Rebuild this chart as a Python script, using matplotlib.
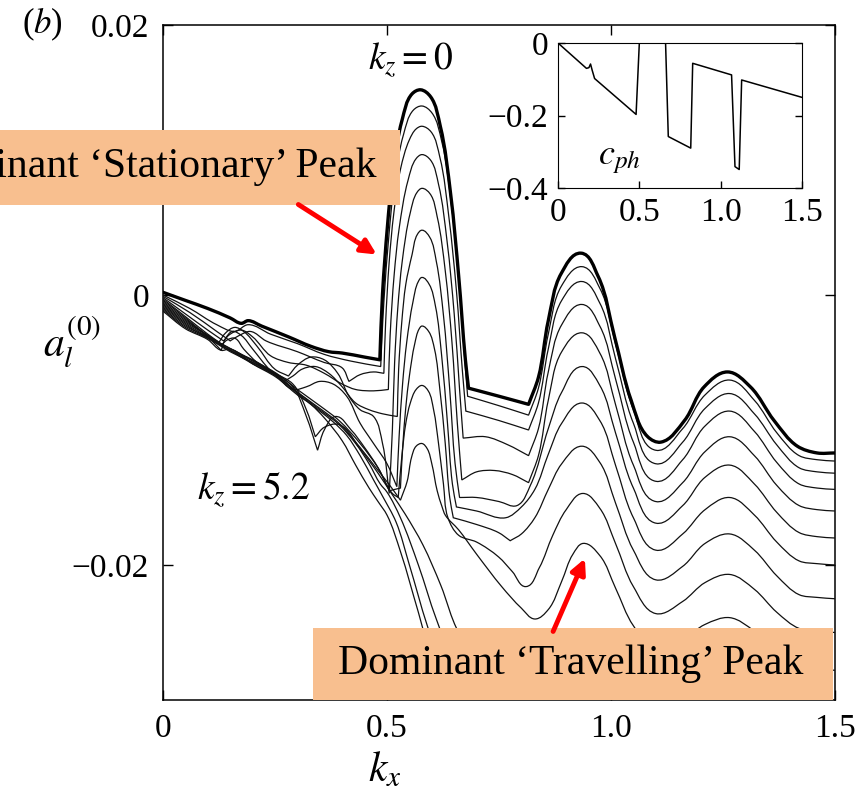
import matplotlib
matplotlib.use("Agg")
import numpy as np
import matplotlib.pyplot as plt
from matplotlib.patches import Rectangle, FancyArrowPatch, PathPatch
from matplotlib.path import Path

plt.rcParams['font.family'] = ['Liberation Serif', 'DejaVu Serif']
plt.rcParams['mathtext.fontset'] = 'stix'

# ---------------- data: a_l^(0)(k_x) for k_z = 0 ... 5.2 ----------------
kz_values = [0.0, 0.4, 0.8, 1.2, 1.6, 2.0, 2.4, 2.8, 3.2, 3.6, 4.0, 4.4, 4.8, 5.2]

kx_00 = [0, 0.05, 0.10, 0.15, 0.175, 0.19, 0.22, 0.28, 0.33, 0.37, 0.40, 0.45, 0.484,
         0.490, 0.501, 0.512, 0.534, 0.556, 0.575, 0.597, 0.619, 0.642, 0.660, 0.675, 0.682,
         0.75, 0.816, 0.838, 0.860, 0.889, 0.933, 0.971, 1.008, 1.045, 1.082, 1.111, 1.164,
         1.208, 1.26, 1.311, 1.364, 1.416, 1.46, 1.5]
a_00 = [0.0002, -0.0004, -0.0010, -0.0017, -0.0021, -0.0019, -0.0023, -0.0031, -0.0038, -0.0042,
        -0.0043, -0.0046, -0.0048, 0.0001, 0.0051, 0.0088, 0.0130, 0.0149, 0.0152, 0.0147, 0.0125,
        0.0075, 0.0014, -0.0048, -0.0069, -0.0075, -0.0081, -0.0061, -0.0019, 0.0016, 0.0031,
        0.0014, -0.0031, -0.0078, -0.0105, -0.0109, -0.0093, -0.0068, -0.0057, -0.0068, -0.0093,
        -0.0112, -0.0117, -0.0117]

kx_04 = [0, 0.06, 0.12, 0.16, 0.19, 0.24, 0.30, 0.36, 0.42, 0.486,
         0.489, 0.494, 0.504, 0.515, 0.537, 0.559, 0.578, 0.600, 0.622, 0.644, 0.662, 0.674, 0.680,
         0.75, 0.816, 0.838, 0.86, 0.89, 0.935, 0.975, 1.01, 1.05, 1.10, 1.16, 1.21, 1.265, 1.32,
         1.37, 1.42, 1.46, 1.5]
a_04 = [0.0000, -0.0010, -0.0022, -0.0027, -0.0022, -0.0029, -0.0036, -0.0044, -0.0049, -0.0053,
        -0.0030, 0.0000, 0.0043, 0.0079, 0.0119, 0.0137, 0.0140, 0.0135, 0.0114, 0.0066, 0.0007,
        -0.0050, -0.0075, -0.0082, -0.0089, -0.0069, -0.0029, 0.0007, 0.0021, 0.0005, -0.0036,
        -0.0085, -0.0115, -0.0099, -0.0074, -0.0063, -0.0078, -0.0102, -0.0119, -0.0122, -0.0123]

kx_08 = [0, 0.06, 0.12, 0.15, 0.17, 0.195, 0.23, 0.30, 0.36, 0.40, 0.415, 0.44, 0.47, 0.493,
         0.497, 0.505, 0.515, 0.530, 0.550, 0.565, 0.578, 0.598, 0.618, 0.638, 0.655, 0.668, 0.676,
         0.75, 0.816, 0.838, 0.86, 0.89, 0.935, 0.975, 1.01, 1.05, 1.10, 1.16, 1.21, 1.265, 1.32,
         1.37, 1.42, 1.46, 1.5]
a_08 = [-0.0001, -0.0013, -0.0027, -0.0034, -0.0030, -0.0027, -0.0034, -0.0042, -0.0050, -0.0054,
        -0.0064, -0.0059, -0.0057, -0.0058,
        -0.0020, 0.0025, 0.0060, 0.0093, 0.0115, 0.0123, 0.0125, 0.0121, 0.0102, 0.0058, 0.0003,
        -0.0055, -0.0086, -0.0093, -0.0100, -0.0080, -0.0040, -0.0004, 0.0010, -0.0006, -0.0047,
        -0.0095, -0.0125, -0.0109, -0.0084, -0.0073, -0.0088, -0.0111, -0.0128, -0.0131, -0.0132]

kx_12 = [0, 0.05, 0.10, 0.135, 0.15, 0.175, 0.20, 0.24, 0.28, 0.32, 0.36, 0.40, 0.43, 0.47, 0.503,
         0.507, 0.516, 0.527, 0.547, 0.565, 0.578, 0.597, 0.615, 0.634, 0.650, 0.662, 0.670,
         0.72, 0.77, 0.816, 0.838, 0.86, 0.89, 0.935, 0.975, 1.01, 1.05, 1.10, 1.16, 1.21, 1.265,
         1.32, 1.37, 1.42, 1.46, 1.5]
a_12 = [-0.0002, -0.0014, -0.0026, -0.0034, -0.0029, -0.0026, -0.0031, -0.0045, -0.0050, -0.0052,
        -0.0058, -0.0066, -0.0070, -0.0071, -0.0070,
        -0.0030, 0.0015, 0.0049, 0.0085, 0.0101, 0.0104, 0.0100, 0.0082, 0.0040, -0.0014, -0.0070,
        -0.0106, -0.0105, -0.0111, -0.0119, -0.0099, -0.0057, -0.0022, -0.0007, -0.0023, -0.0062,
        -0.0109, -0.0138, -0.0122, -0.0097, -0.0086, -0.0101, -0.0124, -0.0140, -0.0143, -0.0144]

kx_16 = [0, 0.05, 0.10, 0.125, 0.14, 0.16, 0.18, 0.21, 0.25, 0.28, 0.30, 0.33, 0.36, 0.39, 0.415,
         0.44, 0.47, 0.49, 0.505,
         0.512, 0.517, 0.524, 0.534, 0.552, 0.567, 0.578, 0.596, 0.612, 0.630, 0.645, 0.657, 0.667,
         0.70, 0.74, 0.78, 0.816, 0.838, 0.86, 0.89, 0.935, 0.975, 1.01, 1.05, 1.10, 1.16, 1.21,
         1.265, 1.32, 1.37, 1.42, 1.46, 1.5]
a_16 = [-0.0003, -0.0016, -0.0029, -0.0035, -0.0028, -0.0024, -0.0027, -0.0038, -0.0055, -0.0060,
        -0.0052, -0.0046, -0.0048, -0.0058, -0.0075, -0.0085, -0.0090, -0.0110, -0.0147,
        -0.0100, -0.0050, -0.0010, 0.0025, 0.0061, 0.0076, 0.0079, 0.0075, 0.0058, 0.0018, -0.0035,
        -0.0095, -0.0137, -0.0131, -0.0130, -0.0133, -0.0139, -0.0119, -0.0078, -0.0042, -0.0028,
        -0.0043, -0.0081, -0.0126, -0.0153, -0.0139, -0.0116, -0.0105, -0.0119, -0.0141, -0.0156,
        -0.0159, -0.0160]

kx_20 = [0, 0.05, 0.10, 0.13, 0.14, 0.155, 0.175, 0.20, 0.24, 0.27, 0.29, 0.31, 0.34, 0.37, 0.40,
         0.43, 0.46, 0.49, 0.523,
         0.526, 0.533, 0.542, 0.556, 0.568, 0.578, 0.595, 0.610, 0.626, 0.640, 0.652, 0.662,
         0.70, 0.75, 0.79, 0.82, 0.86, 0.89, 0.935, 0.975, 1.01, 1.05, 1.10, 1.16, 1.21, 1.265,
         1.32, 1.37, 1.42, 1.46, 1.5]
a_20 = [-0.0004, -0.0017, -0.0031, -0.0041, -0.0032, -0.0027, -0.0030, -0.0040, -0.0056, -0.0064,
        -0.0060, -0.0055, -0.0053, -0.0058, -0.0068, -0.0080, -0.0085, -0.0088, -0.0090,
        -0.0055, -0.0020, 0.0008, 0.0030, 0.0045, 0.0048, 0.0043, 0.0025, -0.0015, -0.0070,
        -0.0125, -0.0150, -0.0150, -0.0153, -0.0156, -0.0141, -0.0099, -0.0072, -0.0053, -0.0067,
        -0.0102, -0.0143, -0.0169, -0.0156, -0.0135, -0.0126, -0.0140, -0.0161, -0.0176, -0.0179,
        -0.0180]

kx_24 = [0, 0.05, 0.10, 0.13, 0.145, 0.16, 0.18, 0.21, 0.253, 0.29, 0.32, 0.35, 0.38, 0.41, 0.44,
         0.47, 0.50, 0.522,
         0.527, 0.535, 0.544, 0.558, 0.570, 0.578, 0.594, 0.608, 0.622, 0.635, 0.646, 0.655,
         0.70, 0.765, 0.80, 0.83, 0.86, 0.89, 0.935, 0.975, 1.01, 1.05, 1.10, 1.16, 1.21, 1.265,
         1.32, 1.37, 1.42, 1.46, 1.5]
a_24 = [-0.0005, -0.0018, -0.0030, -0.0037, -0.0033, -0.0032, -0.0040, -0.0050, -0.0060, -0.0070,
        -0.0068, -0.0064, -0.0066, -0.0075, -0.0095, -0.0110, -0.0125, -0.0142,
        -0.0105, -0.0065, -0.0035, -0.0005, 0.0010, 0.0013, 0.0008, -0.0008, -0.0045, -0.0095,
        -0.0140, -0.0157, -0.0160, -0.0165, -0.0157, -0.0144, -0.0118, -0.0095, -0.0080, -0.0093,
        -0.0126, -0.0165, -0.0189, -0.0177, -0.0159, -0.0150, -0.0163, -0.0183, -0.0197, -0.0199,
        -0.0200]

kx_28 = [0, 0.05, 0.10, 0.15, 0.20, 0.25, 0.29, 0.32, 0.345, 0.36, 0.385, 0.42, 0.45, 0.48, 0.505,
         0.53,
         0.535, 0.542, 0.550, 0.562, 0.572, 0.578, 0.593, 0.606, 0.618, 0.630, 0.640, 0.648,
         0.70, 0.749, 0.775, 0.80, 0.83, 0.86, 0.89, 0.935, 0.975, 1.01, 1.05, 1.10, 1.16, 1.21,
         1.265, 1.32, 1.37, 1.42, 1.46, 1.5]
a_28 = [-0.0006, -0.0019, -0.0030, -0.0041, -0.0048, -0.0058, -0.0068, -0.0090, -0.0115, -0.0100,
        -0.0090, -0.0100, -0.0113, -0.0128, -0.0145, -0.0143,
        -0.0113, -0.0083, -0.0060, -0.0036, -0.0025, -0.0023, -0.0027, -0.0040, -0.0070, -0.0110,
        -0.0150, -0.0165, -0.0170, -0.0176, -0.0182, -0.0177, -0.0165, -0.0144, -0.0125, -0.0112,
        -0.0124, -0.0154, -0.0189, -0.0211, -0.0201, -0.0184, -0.0177, -0.0189, -0.0208, -0.0222,
        -0.0224, -0.0225]

kx_32 = [0, 0.05, 0.10, 0.13, 0.17, 0.21, 0.253, 0.30, 0.35, 0.393, 0.44, 0.48, 0.512, 0.525,
         0.533, 0.542, 0.552, 0.565, 0.578, 0.592, 0.604, 0.615, 0.626, 0.636, 0.66,
         0.70, 0.749, 0.78, 0.81, 0.84, 0.87, 0.90, 0.937, 0.975, 1.01, 1.05, 1.10, 1.16, 1.21,
         1.265, 1.32, 1.37, 1.42, 1.5]
a_32 = [-0.0007, -0.0020, -0.0030, -0.0036, -0.0043, -0.0050, -0.0058, -0.0070, -0.0082, -0.0093,
        -0.0110, -0.0128, -0.0147, -0.0150,
        -0.0120, -0.0095, -0.0080, -0.0070, -0.0067, -0.0071, -0.0085, -0.0110, -0.0140, -0.0165,
        -0.0178, -0.0183, -0.0194, -0.0205, -0.0216, -0.0202, -0.0178, -0.0159, -0.0147, -0.0158,
        -0.0184, -0.0216, -0.0236, -0.0227, -0.0213, -0.0207, -0.0218, -0.0235, -0.0247, -0.0250]

kx_36 = [0, 0.05, 0.10, 0.13, 0.16, 0.20, 0.253, 0.30, 0.35, 0.393, 0.44, 0.48, 0.504, 0.530,
         0.545, 0.555, 0.565, 0.578, 0.590, 0.600, 0.612, 0.623, 0.63,
         0.66, 0.70, 0.756, 0.80, 0.83, 0.86, 0.89, 0.915, 0.938, 0.975, 1.01, 1.05, 1.10, 1.16,
         1.21, 1.265, 1.32, 1.37, 1.42, 1.5]
a_36 = [-0.0008, -0.0021, -0.0031, -0.0037, -0.0043, -0.0051, -0.0060, -0.0072, -0.0084, -0.0095,
        -0.0113, -0.0130, -0.0140, -0.0152,
        -0.0138, -0.0120, -0.0112, -0.0110, -0.0114, -0.0125, -0.0145, -0.0157, -0.0163,
        -0.0174, -0.0192, -0.0216, -0.0232, -0.0240, -0.0233, -0.0212, -0.0192, -0.0184, -0.0193,
        -0.0217, -0.0245, -0.0262, -0.0255, -0.0244, -0.0239, -0.0249, -0.0264, -0.0275, -0.0278]

kx_40 = [0, 0.05, 0.09, 0.12, 0.15, 0.20, 0.25, 0.29, 0.32, 0.34, 0.36, 0.393, 0.44, 0.48, 0.51,
         0.54, 0.58, 0.62, 0.66, 0.75, 0.86, 0.95, 1.11, 1.27, 1.5]
a_40 = [-0.0009, -0.0022, -0.0030, -0.0036, -0.0042, -0.0050, -0.0058, -0.0066, -0.0085, -0.0105,
        -0.0098, -0.0096, -0.0114, -0.0132, -0.0147, -0.0162, -0.0185, -0.0215, -0.0250, -0.0290,
        -0.0310, -0.0290, -0.0330, -0.0310, -0.0350]

kx_44 = [0, 0.05, 0.10, 0.14, 0.20, 0.253, 0.30, 0.35, 0.393, 0.43, 0.46, 0.485, 0.50, 0.53, 0.57,
         0.61, 0.66, 0.75, 0.90, 1.5]
a_44 = [-0.0010, -0.0023, -0.0031, -0.0038, -0.0049, -0.0059, -0.0072, -0.0085, -0.0096, -0.0110,
        -0.0125, -0.0140, -0.0146, -0.0165, -0.0200, -0.0240, -0.0280, -0.0320, -0.0350, -0.0380]

kx_48 = [0, 0.05, 0.10, 0.15, 0.20, 0.253, 0.30, 0.35, 0.38, 0.41, 0.44, 0.47, 0.49, 0.52, 0.55,
         0.59, 0.65, 0.80, 1.5]
a_48 = [-0.0011, -0.0024, -0.0032, -0.0041, -0.0050, -0.0060, -0.0073, -0.0086, -0.0094, -0.0104,
        -0.0119, -0.0137, -0.0149, -0.0168, -0.0200, -0.0245, -0.0300, -0.0350, -0.0420]

kx_52 = [0, 0.05, 0.10, 0.13, 0.15, 0.20, 0.253, 0.30, 0.33, 0.36, 0.40, 0.43, 0.46, 0.48, 0.50,
         0.53, 0.57, 0.62, 0.80, 1.5]
a_52 = [-0.0012, -0.0025, -0.0033, -0.0041, -0.0040, -0.0051, -0.0061, -0.0074, -0.0081, -0.0091,
        -0.0108, -0.0126, -0.0143, -0.0153, -0.0163, -0.0190, -0.0235, -0.0290, -0.0380, -0.0450]

curves_kx = [kx_00, kx_04, kx_08, kx_12, kx_16, kx_20, kx_24, kx_28, kx_32, kx_36,
             kx_40, kx_44, kx_48, kx_52]
curves_a = [a_00, a_04, a_08, a_12, a_16, a_20, a_24, a_28, a_32, a_36,
            a_40, a_44, a_48, a_52]

# inset: phase speed c_ph(k_x)
cph_kx = [0, 0.175, 0.19, 0.20, 0.21, 0.225, 0.48, 0.502, 0.66, 0.678, 0.816, 0.828, 1.067,
          1.088, 1.114, 1.129, 1.5]
cph = [0.0, -0.070, -0.068, -0.058, -0.075, -0.098, -0.197, 0.02, 0.02, -0.258, -0.290, -0.056,
       -0.088, -0.341, -0.349, -0.102, -0.150]

xticks_main = [0, 0.5, 1.0, 1.5]
xticklabels_main = ['0', '0.5', '1.0', '1.5']
yticks_main = [-0.02, 0, 0.02]
yticklabels_main = ['\u22120.02', '0', '0.02']
yticks_inset = [-0.4, -0.2, 0]
yticklabels_inset = ['\u22120.4', '\u22120.2', '0']


# ---------- smooth rendering through the read points (sharp at cusps) ----------
SX, SY = 448.0, 13500.0   # pixels per data unit, to judge angles isotropically


def smooth_path(xs, ys):
    P = np.column_stack([np.asarray(xs, float) * SX, np.asarray(ys, float) * SY])
    n = len(P)
    tin = np.zeros((n, 2))
    tout = np.zeros((n, 2))
    for i in range(n):
        if i == 0 or i == n - 1:
            d = P[1] - P[0] if i == 0 else P[-1] - P[-2]
            u = d / np.linalg.norm(d)
            tin[i] = tout[i] = u
            continue
        a = P[i] - P[i - 1]
        b = P[i + 1] - P[i]
        ua = a / np.linalg.norm(a)
        ub = b / np.linalg.norm(b)
        theta = np.degrees(np.arccos(np.clip(ua @ ub, -1, 1)))
        close = min(xs[i] - xs[i - 1], xs[i + 1] - xs[i]) < 0.028
        is_max = ys[i] > ys[i - 1] and ys[i] > ys[i + 1]
        corner = (theta > 50 and close and not is_max) or theta > 150
        if corner:
            tin[i] = ua
            tout[i] = ub
        else:
            t = ua + ub
            t = t / np.linalg.norm(t)
            tin[i] = tout[i] = t
    verts = [P[0]]
    codes = [Path.MOVETO]
    for j in range(n - 1):
        d = np.linalg.norm(P[j + 1] - P[j])
        verts += [P[j] + tout[j] * d / 3, P[j + 1] - tin[j + 1] * d / 3, P[j + 1]]
        codes += [Path.CURVE4] * 3
    V = np.array(verts)
    V[:, 0] /= SX
    V[:, 1] /= SY
    return Path(V, codes)


# ---------------- figure ----------------
W, H = 863, 793
fig = plt.figure(figsize=(W / 100, H / 100), dpi=100)


def fx(px):
    return px / W


def fy(py):
    return 1 - py / H


ax = fig.add_axes([fx(163), fy(700), 672 / W, 675 / H])
for i in range(len(curves_kx) - 1, -1, -1):
    path = smooth_path(curves_kx[i], curves_a[i])
    if i == 0:
        patch = PathPatch(path, fill=False, edgecolor='black', lw=2.4, zorder=5,
                          joinstyle='round', capstyle='round')
    else:
        patch = PathPatch(path, fill=False, edgecolor='#111111', lw=0.9, zorder=3)
    ax.add_patch(patch)

ax.set_xlim(0, 1.5)
ax.set_ylim(-0.03, 0.02)
ax.set_xticks(xticks_main)
ax.set_xticklabels(xticklabels_main)
ax.set_yticks(yticks_main)
ax.set_yticklabels(yticklabels_main)
ax.tick_params(direction='in', top=True, right=True, labelsize=24, length=7, width=1, pad=10)
for s in ax.spines.values():
    s.set_linewidth(1.1)

ax.set_xlabel(r'$k_x$', fontsize=30)
ax.xaxis.set_label_coords((385 - 163) / 672, -(770 - 700) / 675)
ax.xaxis.label.set_va('center')
ax.set_ylabel(r'$a_l^{(0)}$', fontsize=30, rotation=0)
ax.yaxis.set_label_coords((72 - 163) / 672, (700 - 342) / 675)
ax.yaxis.label.set_va('center')
ax.yaxis.label.set_ha('center')

fig.text(fx(42), fy(24), '($b$)', fontsize=25, ha='center', va='center')
fig.text(fx(410), fy(60), r'$k_z = 0$', fontsize=27, ha='center', va='center')
fig.text(fx(253), fy(490), r'$k_z = 5.2$', fontsize=27, ha='center', va='center')

# inset
axi = fig.add_axes([fx(558), fy(188), 244 / W, 145 / H])
axi.plot(cph_kx, cph, color='black', lw=1.1)
axi.set_xlim(0, 1.5)
axi.set_ylim(-0.4, 0)
axi.set_xticks(xticks_main)
axi.set_xticklabels(xticklabels_main)
axi.set_yticks(yticks_inset)
axi.set_yticklabels(yticklabels_inset)
axi.tick_params(direction='in', right=True, labelsize=24, length=5, width=1, pad=7)
axi.text(0.25, 0.2, r'$c_{ph}$', transform=axi.transAxes, fontsize=26, ha='center', va='center')

# highlight boxes
box_color = '#F8BF8F'
fig.add_artist(Rectangle((fx(-120), fy(205)), (400 + 120) / W, 75 / H,
                         transform=fig.transFigure, facecolor=box_color, edgecolor='none', zorder=10))
fig.text(fx(376), fy(167), 'Dominant \u2018Stationary\u2019 Peak', fontsize=30, ha='right',
         va='center', zorder=11)
fig.add_artist(Rectangle((fx(313), fy(700)), (833 - 313) / W, 72 / H,
                         transform=fig.transFigure, facecolor=box_color, edgecolor='none', zorder=10))
fig.text(fx(571), fy(664), 'Dominant \u2018Travelling\u2019 Peak', fontsize=30, ha='center',
         va='center', zorder=11)

# red arrows
for tail, head in [((296, 203), (379, 256)), ((552, 634), (586, 556))]:
    fig.add_artist(FancyArrowPatch((fx(tail[0]), fy(tail[1])), (fx(head[0]), fy(head[1])),
                                   transform=fig.transFigure, arrowstyle='-|>', color='red',
                                   lw=3.5, mutation_scale=22, zorder=12))

fig.savefig('out.png', dpi=100)
